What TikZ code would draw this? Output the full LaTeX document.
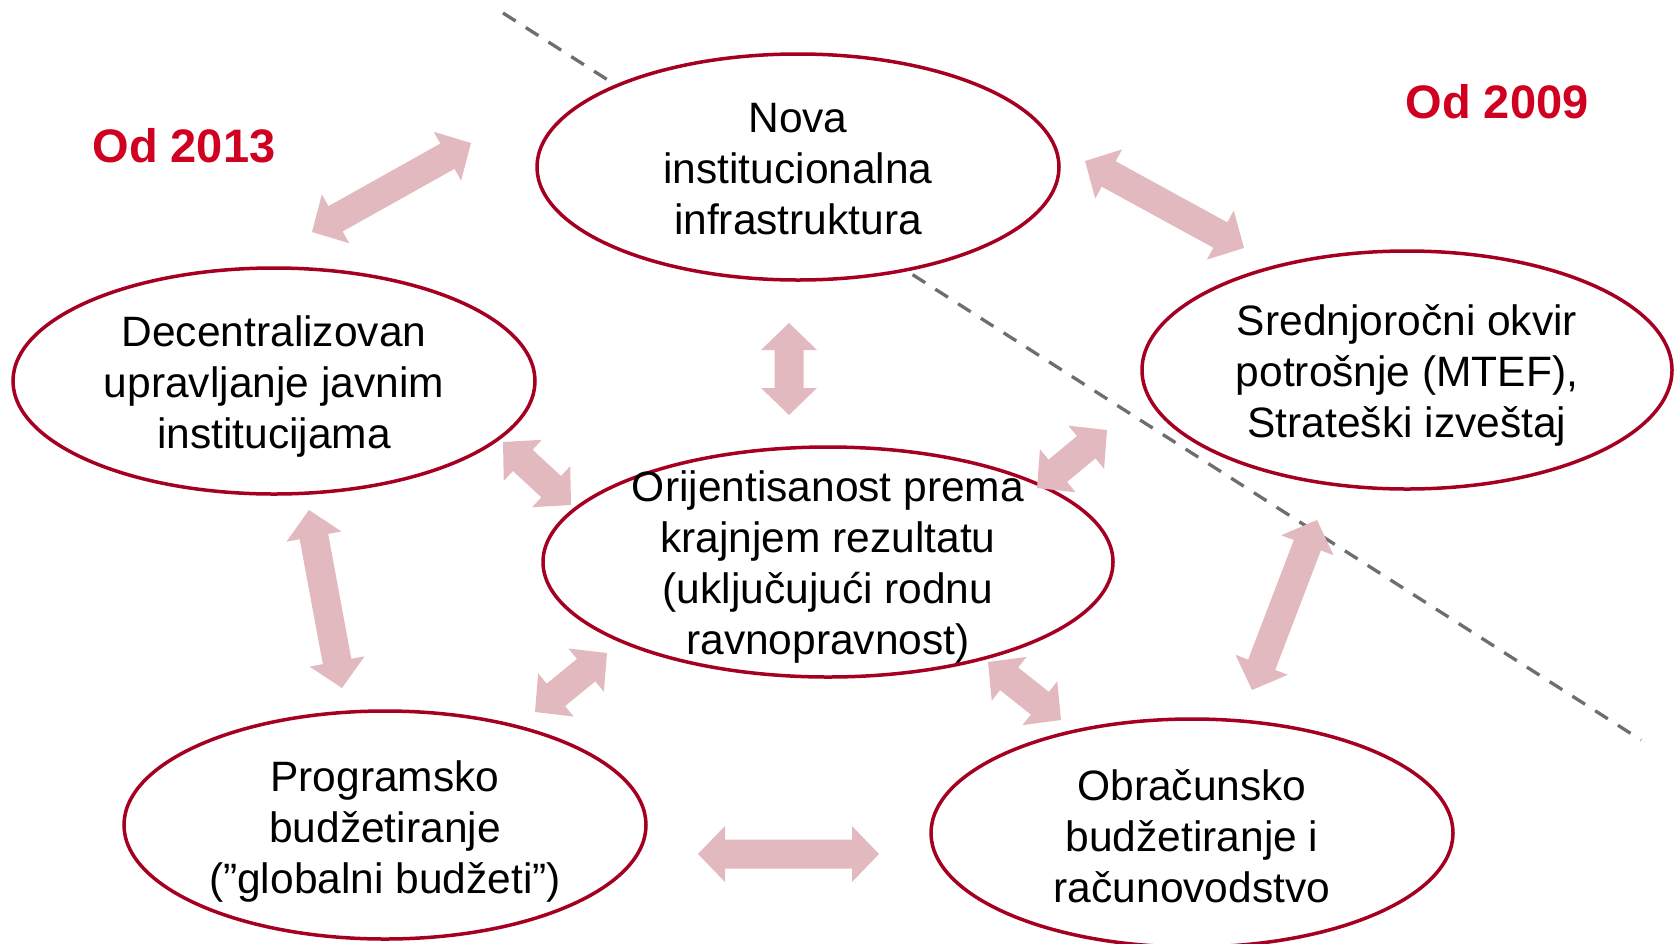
\documentclass[tikz,border=0pt]{standalone}
\usepackage{fontspec}
\setmainfont{Liberation Sans}
\usetikzlibrary{shapes.geometric,calc}
\definecolor{ellred}{RGB}{165,0,33}
\definecolor{labred}{RGB}{207,0,32}
\definecolor{arrpink}{RGB}{226,185,191}
\definecolor{dashgray}{RGB}{110,110,110}
\newcommand\hl{27pt}
\newcommand\hw{28pt}
\newcommand\sw{14.5pt}
\newcommand\dblarr[2]{%
  \fill[arrfill] (#1) -- ($(#1)!\hl!(#2)!\hw!90:(#2)$) -- ($(#1)!\hl!(#2)!\sw!90:(#2)$)
   -- ($(#2)!\hl!(#1)!\sw!-90:(#1)$) -- ($(#2)!\hl!(#1)!\hw!-90:(#1)$) -- (#2)
   -- ($(#2)!\hl!(#1)!\hw!90:(#1)$) -- ($(#2)!\hl!(#1)!\sw!90:(#1)$)
   -- ($(#1)!\hl!(#2)!\sw!-90:(#2)$) -- ($(#1)!\hl!(#2)!\hw!-90:(#2)$) -- cycle;}
\tikzset{
  ell/.style={ellipse, draw=ellred, line width=3.5pt, fill=white, inner sep=0pt},
  txt/.style={align=center, inner sep=0pt, font=\fontsize{42.5}{51}\selectfont},
  arrfill/.style={fill=arrpink},
  dashln/.style={draw=dashgray, line width=3.3pt, dash pattern=on 15pt off 12pt},
  lab/.style={text=labred, font=\fontsize{47}{56}\selectfont\bfseries}
}
\begin{document}
\begin{tikzpicture}[x=1pt,y=-1pt]
\useasboundingbox (0,0) rectangle (1678,943);
\coordinate (d1) at (503,13);
\coordinate (d2) at (1641,740);
\draw[dashln] (d1) -- (d2);

\node[ell, minimum width=522pt, minimum height=226pt] (top) at (798,167) {};
\node[ell, minimum width=522pt, minimum height=226pt] (left) at (274,381) {};
\node[ell, minimum width=530pt, minimum height=238pt] (right) at (1407,370) {};
\node[ell, minimum width=570pt, minimum height=230pt] (center) at (828,562) {};
\node[ell, minimum width=522pt, minimum height=228pt] (bl) at (385,825) {};
\node[ell, minimum width=522pt, minimum height=228pt] (br) at (1192,833) {};

\node[txt] (ttop) at ($(top.center)+(0,2)$) {Nova\\institucionalna\\infrastruktura};
\node[txt] (tleft) at ($(left.center)+(0,6)$) {Decentralizovan\\upravljanje javnim\\institucijama};
\node[txt] (tright) at ($(right.center)+(0,5)$) {Srednjoročni okvir\\potrošnje (MTEF),\\Strateški izveštaj};
\node[txt] (tcenter) at ($(center.center)+(0,5)$) {Orijentisanost prema\\krajnjem rezultatu\\(uključujući rodnu\\ravnopravnost)};
\node[txt] (tbl) at ($(bl.center)+(0,6)$) {Programsko\\budžetiranje\\(”globalni budžeti”)};
\node[txt] (tbr) at ($(br.center)+(0,3)$) {Obračunsko\\budžetiranje i\\računovodstvo};

\node[lab] (l2013) at (184,146) {Od 2013};
\node[lab] (l2009) at (1497,102) {Od 2009};

\coordinate (a1s) at (312,232); \coordinate (a1e) at (471,143);
\coordinate (a2s) at (789,323); \coordinate (a2e) at (789,415);
\coordinate (a3s) at (698,854); \coordinate (a3e) at (879,854);
\coordinate (a4s) at (1085,161); \coordinate (a4e) at (1244,248);
\coordinate (a5s) at (503,442); \coordinate (a5e) at (571,505);
\coordinate (a6s) at (1037,488); \coordinate (a6e) at (1107,430);
\coordinate (a7s) at (309,510); \coordinate (a7e) at (342,688);
\coordinate (a8s) at (1317,520); \coordinate (a8e) at (1252,690);
\coordinate (a9s) at (535,712); \coordinate (a9e) at (607,653);
\coordinate (a10s) at (988,662); \coordinate (a10e) at (1061,720);
\dblarr{a1s}{a1e}
\dblarr{a2s}{a2e}
\dblarr{a3s}{a3e}
\dblarr{a4s}{a4e}
\dblarr{a5s}{a5e}
\dblarr{a6s}{a6e}
\dblarr{a7s}{a7e}
\dblarr{a8s}{a8e}
\dblarr{a9s}{a9e}
\dblarr{a10s}{a10e}
\end{tikzpicture}
\end{document}
